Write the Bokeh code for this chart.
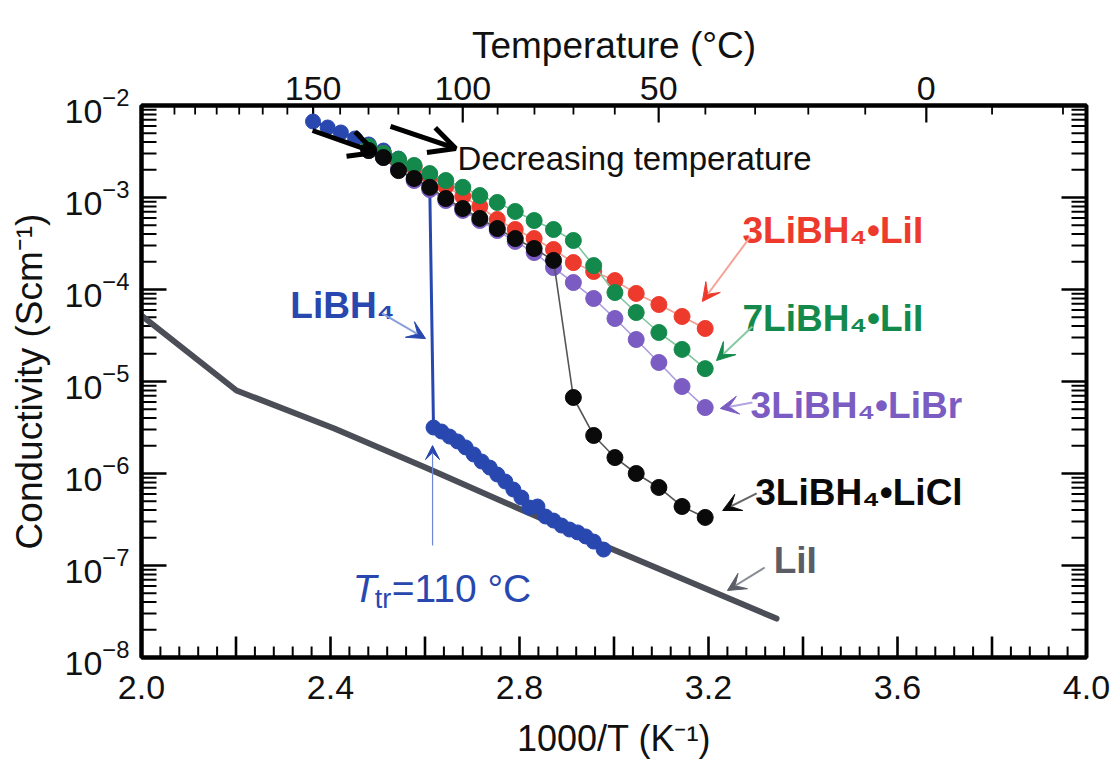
import math
from bokeh.plotting import figure
from bokeh.models import (LinearAxis, FixedTicker, CustomJSTickFormatter, ColumnDataSource,
                          Range1d, Arrow, VeeHead, OpenHead)
from bokeh.core.properties import value
from bokeh.embed import file_html
from bokeh.resources import INLINE

# ---------------- data ----------------
inv_T_comp = [2.481, 2.512, 2.544, 2.577, 2.610, 2.644, 2.680, 2.716, 2.753, 2.791,
              2.831, 2.872, 2.914, 2.957, 3.002, 3.047, 3.095, 3.144, 3.193]
sigma_3LiBH4_LiI = [3.49e-3, 3.01e-3, 2.52e-3, 2.12e-3, 1.69e-3, 1.32e-3, 1.03e-3, 7.98e-4,
                    5.77e-4, 4.49e-4, 3.58e-4, 2.72e-4, 1.96e-4, 1.57e-4, 1.25e-4, 9.06e-5,
                    6.87e-5, 5.09e-5, 3.77e-5]
sigma_7LiBH4_LiI = [3.58e-3, 3.01e-3, 2.59e-3, 2.23e-3, 1.82e-3, 1.53e-3, 1.29e-3, 1.05e-3,
                    8.83e-4, 7.05e-4, 5.62e-4, 4.49e-4, 3.41e-4, 1.82e-4, 9.27e-5, 5.62e-5,
                    3.41e-5, 2.23e-5, 1.38e-5]
sigma_3LiBH4_LiBr = [3.24e-3, 2.72e-3, 2.07e-3, 1.53e-3, 1.22e-3, 9.27e-4, 7.23e-4, 5.62e-4,
                     4.38e-4, 3.33e-4, 2.52e-4, 1.73e-4, 1.19e-4, 7.98e-5, 4.84e-5, 2.86e-5,
                     1.61e-5, 8.83e-6, 5.21e-6]
sigma_3LiBH4_LiCl = [3.24e-3, 2.72e-3, 1.96e-3, 1.61e-3, 1.29e-3, 9.75e-4, 7.59e-4, 5.92e-4,
                     4.60e-4, 3.58e-4, 2.79e-4, 2.07e-4, 6.70e-6, 2.59e-6, 1.49e-6, 1.00e-6,
                     7.05e-7, 4.38e-7, 3.33e-7]

inv_T_LiBH4 = [2.363, 2.394, 2.422, 2.452, 2.481, 2.512, 2.544, 2.577, 2.610,
               2.618, 2.635, 2.652, 2.669, 2.686, 2.703, 2.720, 2.737, 2.753, 2.770,
               2.787, 2.804, 2.821, 2.838, 2.855, 2.872, 2.889, 2.906, 2.923, 2.940,
               2.957, 2.978]
sigma_LiBH4 = [6.70e-3, 5.77e-3, 5.09e-3, 4.38e-3, 3.77e-3, 3.24e-3, 2.65e-3, 2.12e-3, 1.35e-3,
               3.16e-6, 2.86e-6, 2.52e-6, 2.23e-6, 1.92e-6, 1.61e-6, 1.35e-6, 1.16e-6, 9.75e-7,
               8.18e-7, 6.70e-7, 5.48e-7, 4.27e-7, 4.38e-7, 3.41e-7, 3.08e-7, 2.72e-7, 2.46e-7,
               2.29e-7, 2.07e-7, 1.82e-7, 1.49e-7]

inv_T_LiI = [2.0, 2.201, 2.408, 2.601, 2.798, 2.988, 3.344]
sigma_LiI = [5.21e-5, 7.98e-6, 3.08e-6, 1.16e-6, 4.17e-7, 1.57e-7, 2.65e-8]

x_tick_labels = ["2.0", "2.4", "2.8", "3.2", "3.6", "4.0"]
top_temps_C = [150, 100, 50, 0]
top_minor_temps_C = [210, 200, 190, 180, 170, 160, 140, 130, 120, 110, 90, 80, 70, 60,
                     40, 30, 20, 10, -10, -20]
y_decades = [-8, -7, -6, -5, -4, -3, -2]

# ---------------- styling ----------------
FONT = "Liberation Sans"
RED = "#ee3a2c"
GREEN = "#138a4c"
PURPLE = "#7a5cc2"
BLACK = "#0a0a0a"
BLUE = "#2848b0"
GRAY = "#4b4e57"
X0, X1, Y0, Y1 = 2.0, 4.0, 1e-8, 1e-2
FW, FH = 945, 552

p = figure(frame_width=FW, frame_height=FH,
           x_range=Range1d(X0, X1), y_range=Range1d(Y0, Y1),
           y_axis_type="log", output_backend="svg", toolbar_location=None,
           min_border_left=141, min_border_right=28, min_border_top=105, min_border_bottom=104,
           background_fill_color="white", border_fill_color="white")
p.xgrid.visible = False
p.ygrid.visible = False
p.outline_line_color = "black"
p.outline_line_width = 4


def style_axis(ax):
    ax.axis_line_color = "black"
    ax.axis_line_width = 4
    ax.major_tick_in = 0
    ax.major_tick_out = 0
    ax.minor_tick_in = 0
    ax.minor_tick_out = 0
    ax.major_tick_line_color = None
    ax.minor_tick_line_color = None
    ax.major_label_text_font = FONT
    ax.major_label_text_font_size = "34px"
    ax.major_label_text_color = "#111111"
    ax.axis_label_text_font = FONT
    ax.axis_label_text_font_size = "36px"
    ax.axis_label_text_font_style = "normal"
    ax.axis_label_text_color = "#111111"


# tick positions
x_major = [round(2.0 + 0.2 * i, 2) for i in range(11)]
x_minor = [round(2.0 + 0.04 * i, 2) for i in range(51) if i % 5 != 0]
y_major = [10.0 ** e for e in y_decades]
y_minor = [k * 10.0 ** e for e in y_decades[:-1] for k in range(2, 10)]
top_major = [1000.0 / (t + 273.15) for t in top_temps_C]
top_minor = [1000.0 / (t + 273.15) for t in top_minor_temps_C]

# bottom axis
xb = p.xaxis[0]
xb.ticker = FixedTicker(ticks=x_major)
xb.formatter = CustomJSTickFormatter(args=dict(labels=x_tick_labels), code="""
    const s = tick.toFixed(1);
    return labels.includes(s) ? s : "";
""")
style_axis(xb)
xb.axis_label = "1000/T (K\u207b\u00b9)"
xb.major_label_standoff = 18
xb.axis_label_standoff = 16

# left axis
yl = p.yaxis[0]
yl.ticker = FixedTicker(ticks=y_major)
style_axis(yl)
yl.axis_label = "Conductivity (Scm\u207b\u00b9)"
yl.axis_label_text_font_size = "37px"
yl.major_label_standoff = 12
yl.axis_label_standoff = 12

# top axis: temperature in degC
xt = LinearAxis(ticker=FixedTicker(ticks=top_major),
                formatter=CustomJSTickFormatter(code="return Math.round(1000/tick - 273.15).toString();"))
style_axis(xt)
xt.axis_label = "Temperature (\u00b0C)"
xt.axis_label_text_font_size = "37px"
xt.major_label_standoff = 6
xt.axis_label_standoff = 8
p.add_layout(xt, "above")

# inward ticks, as short segments inside the frame
DX = (X1 - X0) / FW                                # data units per pixel (x)
DY = (math.log10(Y1) - math.log10(Y0)) / FH        # decades per pixel (y)

tx0, ty0, tx1, ty1, tw = [], [], [], [], []


def xticks(xs, at_bottom, length, w):
    for x in xs:
        if at_bottom:
            tx0.append(x); ty0.append(Y0 * 1.0001); tx1.append(x); ty1.append(Y0 * 10 ** (length * DY))
        else:
            tx0.append(x); ty0.append(Y1 * 0.9999); tx1.append(x); ty1.append(Y1 / 10 ** (length * DY))
        tw.append(w)


def yticks(ys, at_left, length, w):
    for y in ys:
        if at_left:
            tx0.append(X0 + 0.0005); tx1.append(X0 + length * DX)
        else:
            tx0.append(X1 - 0.0005); tx1.append(X1 - length * DX)
        ty0.append(y); ty1.append(y)
        tw.append(w)


xticks(x_major, True, 21, 2.6)
xticks(x_minor, True, 11, 2.0)
xticks(top_major, False, 17, 2.2)
xticks(top_minor, False, 9, 1.8)
yticks(y_major, True, 25, 2.6)
yticks(y_minor, True, 15, 2.0)
yticks(y_major, False, 25, 2.6)
yticks(y_minor, False, 15, 2.0)

p.segment(x0="x0", y0="y0", x1="x1", y1="y1", line_width="w", line_color="#000000",
          source=ColumnDataSource(dict(x0=tx0, y0=ty0, x1=tx1, y1=ty1, w=tw)))

# ---------------- data marks ----------------
p.line(inv_T_LiI, sigma_LiI, line_color=GRAY, line_width=6, line_cap="round", line_join="round")

p.line(inv_T_LiBH4, sigma_LiBH4, line_color=BLUE, line_width=3)
p.scatter(inv_T_LiBH4, sigma_LiBH4, size=15, fill_color=BLUE, line_color=BLUE)

series = [
    (sigma_3LiBH4_LiBr, PURPLE, "#ab9bdc"),
    (sigma_3LiBH4_LiI, RED, "#f29a8f"),
    (sigma_7LiBH4_LiI, GREEN, "#7fc49c"),
    (sigma_3LiBH4_LiCl, BLACK, "#555555"),
]
for ys, col, lcol in series:
    p.line(inv_T_comp, ys, line_color=lcol, line_width=1.6)
    p.scatter(inv_T_comp, ys, size=16, fill_color=col, line_color=col)

# ---------------- annotations ----------------
def add_text(x, y, txt, color, size="37px", style="bold", xo=0, yo=0):
    p.text(x=[x], y=[y], text=[txt], text_color=color, text_font=value(FONT),
           text_font_size=size, text_font_style=style, text_align="left",
           text_baseline="alphabetic", x_offset=xo, y_offset=yo)


add_text(3.272, 4.38e-4, "3LiBH\u2084\u2022LiI", RED)
add_text(3.272, 4.84e-5, "7LiBH\u2084\u2022LiI", GREEN)
add_text(3.289, 5.48e-6, "3LiBH\u2084\u2022LiBr", PURPLE)
add_text(3.299, 6.21e-7, "3LiBH\u2084\u2022LiCl", BLACK)
add_text(3.338, 1.13e-7, "LiI", "#5a5d66")
add_text(2.315, 6.70e-5, "LiBH\u2084", BLUE)
add_text(2.669, 2.65e-3, "Decreasing temperature", "#111111", size="33px", style="normal")
# T_tr = 110 degC
add_text(2.447, 5.62e-8, "T", BLUE, size="39px", style="italic")
add_text(2.447, 5.62e-8, "tr", BLUE, size="27px", style="normal", xo=22, yo=10)
add_text(2.447, 5.62e-8, "=110 \u00b0C", BLUE, size="39px", style="normal", xo=39)


def add_arrow(x0, y0, x1, y1, head_col, shaft_col, w=2, hs=18):
    p.add_layout(Arrow(end=VeeHead(size=hs, fill_color=head_col, line_color=head_col),
                       x_start=x0, y_start=y0, x_end=x1, y_end=y1,
                       line_color=shaft_col, line_width=w))


add_arrow(3.289, 3.77e-4, 3.187, 7.41e-5, RED, "#f5a398")
add_arrow(3.293, 3.96e-5, 3.217, 1.69e-5, GREEN, "#86c9a2")
add_arrow(3.293, 5.92e-6, 3.225, 5.09e-6, PURPLE, "#b3a5e0")
add_arrow(3.302, 6.07e-7, 3.230, 3.96e-7, BLACK, "#666666")
add_arrow(3.319, 9.51e-8, 3.240, 5.35e-8, "#5a5d66", "#8a8d95")
add_arrow(2.510, 5.48e-5, 2.601, 2.93e-5, BLUE, "#8aa0de")
add_arrow(2.616, 1.65e-7, 2.616, 2.01e-6, BLUE, "#6f88d6", w=1.2, hs=14)

for (x0, y0, x1, y1) in [(2.362, 5.35e-3, 2.495, 3.08e-3), (2.527, 5.92e-3, 2.665, 3.41e-3)]:
    p.add_layout(Arrow(end=OpenHead(size=26, line_width=5, line_color="black"),
                       x_start=x0, y_start=y0, x_end=x1, y_end=y1,
                       line_color="black", line_width=5))

open("out.html", "w").write(file_html(p, INLINE))
